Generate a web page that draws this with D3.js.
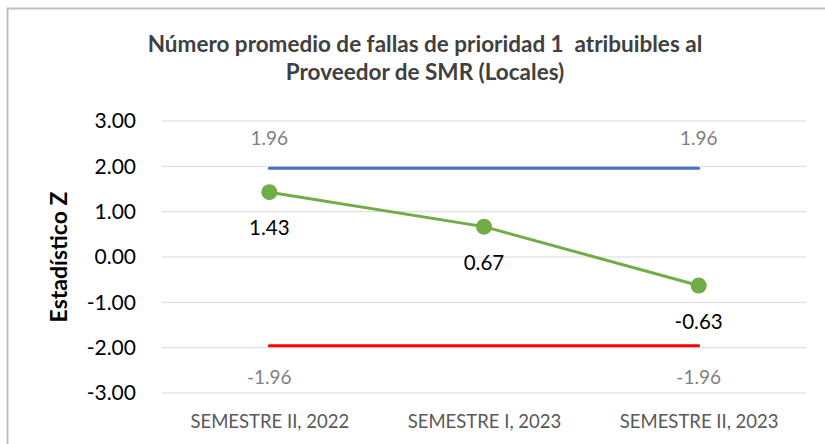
<!DOCTYPE html>
<html lang="es">
<head>
    <meta charset="utf-8">
    <title>Estadístico Z - fallas prioridad 1</title>
    <script src="https://d3js.org/d3.v7.min.js"></script>
    <style>
        body { margin: 0; background: #fff; }
        svg { display: block; }
        text { font-family: Lato, "Open Sans", sans-serif; }
    </style>
</head>
<body>
    <div class="chart"></div>
    <script>
        // data
        var categories = ["SEMESTRE II, 2022", "SEMESTRE I, 2023", "SEMESTRE II, 2023"];
        var zValues = [1.43, 0.67, -0.63];
        var upperLimit = [1.96, 1.96, 1.96];
        var lowerLimit = [-1.96, -1.96, -1.96];
        var yTicks = [3, 2, 1, 0, -1, -2, -3];
        var titleLines = ["Número promedio de fallas de prioridad 1  atribuibles al", "Proveedor de SMR (Locales)"];

        var width = 825;
        var height = 444;

        // plain hyphen for negatives, like the original
        var fmt = function(v) { return d3.format(".2f")(v).replace("\u2212", "-"); };

        var svg = d3.select("div.chart")
            .append("svg")
            .attr("width", width)
            .attr("height", height);

        // chart border (only top + left visible in the crop)
        svg.append("rect")
            .attr("x", 7.5)
            .attr("y", 8.5)
            .attr("width", 840)
            .attr("height", 460)
            .attr("fill", "none")
            .attr("stroke", "#bfbfbf")
            .attr("stroke-width", 2);

        var x = d3.scalePoint()
            .domain(categories)
            .range([162, 806])
            .padding(0.5);

        var y = d3.scaleLinear()
            .domain([-3, 3])
            .range([393, 121]);

        // title
        svg.append("text")
            .attr("x", 425)
            .attr("y", 52)
            .attr("text-anchor", "middle")
            .attr("xml:space", "preserve")
            .style("white-space", "pre")
            .style("font-size", "22.5px")
            .style("font-weight", "bold")
            .attr("fill", "#404040")
            .selectAll("tspan")
            .data(titleLines)
            .enter()
            .append("tspan")
            .attr("x", 425)
            .attr("dy", function(d, i) { return i == 0 ? 0 : 28; })
            .text(function(d) { return d; });

        // gridlines
        svg.append("g")
            .selectAll("line")
            .data(yTicks)
            .enter()
            .append("line")
            .attr("x1", 162)
            .attr("x2", 806)
            .attr("y1", function(d) { return y(d); })
            .attr("y2", function(d) { return y(d); })
            .attr("stroke", "#d9d9d9")
            .attr("stroke-width", 1);

        // y axis labels
        var yAxis = d3.axisLeft(y)
            .tickValues(yTicks)
            .tickFormat(fmt)
            .tickSize(0)
            .tickPadding(0);

        var yg = svg.append("g")
            .attr("transform", "translate(136,0)")
            .call(yAxis);
        yg.select(".domain").remove();
        yg.selectAll("text")
            .attr("fill", "#000")
            .style("font-family", "Lato, 'Open Sans', sans-serif")
            .style("font-size", "21px");

        // x axis labels
        var xAxis = d3.axisBottom(x)
            .tickSize(0)
            .tickPadding(0);

        var xg = svg.append("g")
            .attr("transform", "translate(0,428)")
            .call(xAxis);
        xg.select(".domain").remove();
        xg.selectAll("text")
            .attr("dy", 0)
            .attr("fill", "#595959")
            .style("font-family", "Lato, 'Open Sans', sans-serif")
            .style("font-size", "18.5px");

        // y axis title
        svg.append("text")
            .attr("transform", "translate(67,257) rotate(-90)")
            .attr("text-anchor", "middle")
            .style("font-size", "23px")
            .style("font-weight", "bold")
            .attr("fill", "#000")
            .text("Estadístico Z");

        var line = d3.line()
            .x(function(d, i) { return x(categories[i]); })
            .y(function(d) { return y(d); });

        // limit lines
        svg.append("path")
            .datum(upperLimit)
            .attr("d", line)
            .attr("fill", "none")
            .attr("stroke", "#4472c4")
            .attr("stroke-width", 3)
            .attr("stroke-linecap", "round");

        svg.append("path")
            .datum(lowerLimit)
            .attr("d", line)
            .attr("fill", "none")
            .attr("stroke", "#ff0000")
            .attr("stroke-width", 3)
            .attr("stroke-linecap", "round");

        // limit labels (first and last only)
        var ends = [0, categories.length - 1];
        svg.append("g")
            .selectAll("text")
            .data(ends)
            .enter()
            .append("text")
            .attr("x", function(i) { return x(categories[i]); })
            .attr("y", function(i) { return y(upperLimit[i]) - 23; })
            .attr("text-anchor", "middle")
            .attr("fill", "#7f7f7f")
            .style("font-size", "19px")
            .text(function(i) { return fmt(upperLimit[i]); });

        svg.append("g")
            .selectAll("text")
            .data(ends)
            .enter()
            .append("text")
            .attr("x", function(i) { return x(categories[i]); })
            .attr("y", function(i) { return y(lowerLimit[i]) + 38; })
            .attr("text-anchor", "middle")
            .attr("fill", "#7f7f7f")
            .style("font-size", "19px")
            .text(function(i) { return fmt(lowerLimit[i]); });

        // Z series
        svg.append("path")
            .datum(zValues)
            .attr("d", line)
            .attr("fill", "none")
            .attr("stroke", "#70ad47")
            .attr("stroke-width", 3);

        svg.append("g")
            .selectAll("circle")
            .data(zValues)
            .enter()
            .append("circle")
            .attr("cx", function(d, i) { return x(categories[i]); })
            .attr("cy", function(d) { return y(d); })
            .attr("r", 8)
            .attr("fill", "#70ad47");

        svg.append("g")
            .selectAll("text")
            .data(zValues)
            .enter()
            .append("text")
            .attr("x", function(d, i) { return x(categories[i]); })
            .attr("y", function(d) { return y(d) + 43; })
            .attr("text-anchor", "middle")
            .attr("fill", "#000")
            .style("font-size", "20.5px")
            .text(function(d) { return fmt(d); });
    </script>
</body>
</html>
